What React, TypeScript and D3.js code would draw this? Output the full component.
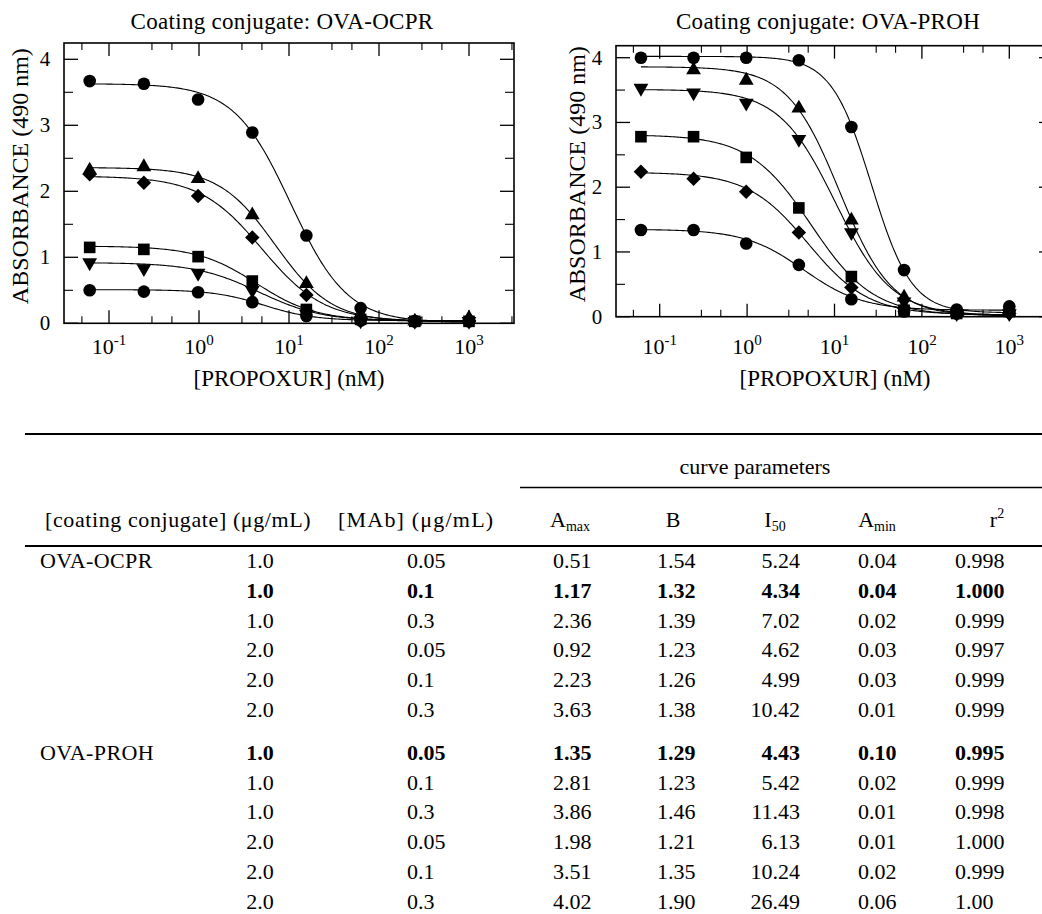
import React from 'react';
import * as d3 from 'd3';

// propoxur concentrations (nM), fourfold dilutions
const concentrations = [0.061, 0.244, 0.977, 3.91, 15.6, 62.5, 250, 1000];

// panel A: coating conjugate OVA-OCPR
const ocprShapes = ['circle', 'triangleUp', 'diamond', 'square', 'triangleDown', 'circle'];
const ocprPoints = [
  [3.67, 3.63, 3.39, 2.89, 1.33, 0.23, 0.035, 0.035],
  [2.32, 2.37, 2.19, 1.64, 0.6, 0.13, 0.03, 0.08],
  [2.26, 2.13, 1.93, 1.3, 0.43, 0.08, 0.03, 0.04],
  [1.15, 1.12, 1.01, 0.64, 0.21, 0.06, 0.03, 0.03],
  [0.92, 0.83, 0.76, 0.5, 0.14, 0.04, 0.03, 0.03],
  [0.5, 0.48, 0.47, 0.32, 0.11, 0.04, 0.03, 0.03],
];
// fitted curves [Amax, B, I50, Amin]
const ocprFits = [
  [3.63, 1.38, 10.42, 0.01],
  [2.36, 1.39, 7.02, 0.02],
  [2.23, 1.26, 4.99, 0.03],
  [1.17, 1.32, 4.34, 0.04],
  [0.92, 1.23, 4.62, 0.03],
  [0.51, 1.54, 5.24, 0.04],
];

// panel B: coating conjugate OVA-PROH
const prohShapes = ['circle', 'triangleUp', 'triangleDown', 'square', 'diamond', 'circle'];
const prohPoints = [
  [4.0, 4.0, 4.0, 3.96, 2.93, 0.72, 0.11, 0.16],
  [null, 3.81, 3.65, 3.22, 1.49, 0.3, 0.06, 0.06],
  [3.53, 3.46, 3.3, 2.74, 1.3, 0.23, 0.05, 0.05],
  [2.78, 2.78, 2.46, 1.68, 0.62, 0.1, 0.05, 0.08],
  [2.24, 2.13, 1.93, 1.3, 0.45, 0.13, 0.05, 0.05],
  [1.34, 1.34, 1.13, 0.8, 0.27, 0.08, 0.05, 0.08],
];
const prohFits = [
  [4.02, 1.9, 26.49, 0.06],
  [3.86, 1.46, 11.43, 0.01],
  [3.51, 1.35, 10.24, 0.02],
  [2.81, 1.23, 5.42, 0.02],
  [2.23, 1.26, 4.99, 0.03],
  [1.35, 1.29, 4.43, 0.1],
];

const yTicks = [0, 1, 2, 3, 4];
const decadeTicks = [-1, 0, 1, 2, 3];

// table
const groupNames = ['OVA-OCPR', 'OVA-PROH'];
const coatingConc = ['1.0', '1.0', '1.0', '2.0', '2.0', '2.0', '1.0', '1.0', '1.0', '2.0', '2.0', '2.0'];
const mabConc = ['0.05', '0.1', '0.3', '0.05', '0.1', '0.3', '0.05', '0.1', '0.3', '0.05', '0.1', '0.3'];
const aMax = ['0.51', '1.17', '2.36', '0.92', '2.23', '3.63', '1.35', '2.81', '3.86', '1.98', '3.51', '4.02'];
const slopeB = ['1.54', '1.32', '1.39', '1.23', '1.26', '1.38', '1.29', '1.23', '1.46', '1.21', '1.35', '1.90'];
const i50 = ['5.24', '4.34', '7.02', '4.62', '4.99', '10.42', '4.43', '5.42', '11.43', '6.13', '10.24', '26.49'];
const aMin = ['0.04', '0.04', '0.02', '0.03', '0.03', '0.01', '0.10', '0.02', '0.01', '0.01', '0.02', '0.06'];
const rSquared = ['0.998', '1.000', '0.999', '0.997', '0.999', '0.999', '0.995', '0.999', '0.998', '1.000', '0.999', '1.00'];
const boldRows = [1, 6];

const FONT = '"Liberation Serif", "Times New Roman", serif';

const symbolFor = (shape: string) => {
  const gen = d3.symbol();
  if (shape === 'circle') return { d: gen.type(d3.symbolCircle).size(125)(), rot: 0 };
  if (shape === 'square') return { d: gen.type(d3.symbolSquare).size(135)(), rot: 0 };
  if (shape === 'diamond') return { d: gen.type(d3.symbolSquare).size(105)(), rot: 45 };
  if (shape === 'triangleUp') return { d: gen.type(d3.symbolTriangle).size(95)(), rot: 0 };
  return { d: gen.type(d3.symbolTriangle).size(95)(), rot: 180 };
};

const logistic = (p: number[], x: number) => (p[0] - p[3]) / (1 + Math.pow(x / p[2], p[1])) + p[3];

function Panel({ title, points, fits, shapes, left, right, top, bottom, yMax, titleX, yLabelX }: any) {
  const x = d3.scaleLog().domain([Math.pow(10, -1.5), Math.pow(10, 3.5)]).range([left, right]);
  const y = d3.scaleLinear().domain([0, yMax]).range([bottom, top]);
  const lo = Math.log10(concentrations[0]);
  const hi = Math.log10(concentrations[concentrations.length - 1]);
  const samples = d3.range(0, 241).map((i) => Math.pow(10, lo + ((hi - lo) * i) / 240));
  const line = d3.line<number>();

  const minorX: number[] = [];
  [-2, -1, 0, 1, 2, 3].forEach((e) => [3, 5].forEach((m) => {
    const v = m * Math.pow(10, e);
    if (v > x.domain()[0] && v < x.domain()[1]) minorX.push(v);
  }));
  const minorY = d3.range(0.5, yMax, 1);

  return (
    <g>
      <text x={titleX} y={29} textAnchor="middle" fontSize={23} fontFamily={FONT} letterSpacing={0.3}>{title}</text>
      {fits.map((p: number[], i: number) => (
        <path key={'c' + i}
          d={line(samples.map((s) => [x(s), y(logistic(p, s))]) as any) || ''}
          fill="none" stroke="#000" strokeWidth={1.1} />
      ))}
      {points.map((row: (number | null)[], i: number) => {
        const sym = symbolFor(shapes[i]);
        return row.map((v, j) => v === null ? null : (
          <path key={'p' + i + '-' + j} d={sym.d as string}
            transform={`translate(${x(concentrations[j])},${y(v)}) rotate(${sym.rot})`} fill="#000" />
        ));
      })}
      <rect x={left} y={top} width={right - left} height={bottom - top} fill="none" stroke="#000" strokeWidth={1.6} />
      {/* x ticks top and bottom */}
      {decadeTicks.map((e) => {
        const px = x(Math.pow(10, e));
        return (
          <g key={'xt' + e}>
            <line x1={px} x2={px} y1={bottom} y2={bottom - 13} stroke="#000" strokeWidth={1.3} />
            <line x1={px} x2={px} y1={top} y2={top + 13} stroke="#000" strokeWidth={1.3} />
            <text x={px} y={354} textAnchor="middle" fontSize={22} fontFamily={FONT}>
              10<tspan fontSize={15} dy={-9}>{e}</tspan>
            </text>
          </g>
        );
      })}
      {minorX.map((v, i) => (
        <g key={'xm' + i}>
          <line x1={x(v)} x2={x(v)} y1={bottom} y2={bottom - 7} stroke="#000" strokeWidth={1.1} />
          <line x1={x(v)} x2={x(v)} y1={top} y2={top + 7} stroke="#000" strokeWidth={1.1} />
        </g>
      ))}
      {/* y ticks left and right */}
      {yTicks.map((t) => (
        <g key={'yt' + t}>
          <line x1={left} x2={left + 14} y1={y(t)} y2={y(t)} stroke="#000" strokeWidth={1.3} />
          <line x1={right} x2={right - 14} y1={y(t)} y2={y(t)} stroke="#000" strokeWidth={1.3} />
          <text x={left - 19} y={y(t) + 7} textAnchor="middle" fontSize={21} fontFamily={FONT}>{t}</text>
        </g>
      ))}
      {minorY.map((t) => (
        <g key={'ym' + t}>
          <line x1={left} x2={left + 9} y1={y(t)} y2={y(t)} stroke="#000" strokeWidth={1.1} />
          <line x1={right} x2={right - 9} y1={y(t)} y2={y(t)} stroke="#000" strokeWidth={1.1} />
        </g>
      ))}
      <text x={(left + Math.min(right, 1042)) / 2 + (right > 1042 ? 6 : 0)} y={386} textAnchor="middle" fontSize={23} fontFamily={FONT}>
        [PROPOXUR] (nM)
      </text>
      <text transform={`translate(${yLabelX},${(top + bottom) / 2 - 7}) rotate(-90)`} textAnchor="middle"
        fontSize={24} fontFamily={FONT}>
        ABSORBANCE (490 nm)
      </text>
    </g>
  );
}

function ParamTable() {
  const rowY = (i: number) => 568 + i * 29.8 + (i >= 6 ? 13 : 0);
  const cell = { fontSize: 22, fontFamily: FONT };
  return (
    <g>
      <line x1={25} x2={1042} y1={434} y2={434} stroke="#000" strokeWidth={2} />
      <text x={755} y={474} textAnchor="middle" {...cell}>curve parameters</text>
      <line x1={520} x2={1042} y1={487.5} y2={487.5} stroke="#000" strokeWidth={1.6} />
      <text x={45} y={527} {...cell} letterSpacing={0.6}>[coating conjugate] (μg/mL)</text>
      <text x={338} y={527} {...cell} letterSpacing={1.2}>[MAb] (μg/mL)</text>
      <text x={570} y={527} textAnchor="middle" {...cell}>A<tspan fontSize={14} dy={4}>max</tspan></text>
      <text x={673} y={527} textAnchor="middle" {...cell}>B</text>
      <text x={775} y={527} textAnchor="middle" {...cell}>I<tspan fontSize={14} dy={4}>50</tspan></text>
      <text x={877} y={527} textAnchor="middle" {...cell}>A<tspan fontSize={14} dy={4}>min</tspan></text>
      <text x={997} y={527} textAnchor="middle" {...cell}>r<tspan fontSize={14} dy={-9}>2</tspan></text>
      <line x1={25} x2={1042} y1={546} y2={546} stroke="#000" strokeWidth={2} />
      {groupNames.map((g, k) => (
        <text key={g} x={40} y={rowY(k * 6)} {...cell} letterSpacing={0.4}>{g}</text>
      ))}
      {coatingConc.map((c, i) => {
        const weight = boldRows.includes(i) ? 'bold' : 'normal';
        const yy = rowY(i);
        return (
          <g key={'r' + i} fontWeight={weight}>
            <text x={260} y={yy} textAnchor="middle" {...cell}>{c}</text>
            <text x={407} y={yy} {...cell}>{mabConc[i]}</text>
            <text x={553} y={yy} {...cell}>{aMax[i]}</text>
            <text x={657} y={yy} {...cell}>{slopeB[i]}</text>
            <text x={800} y={yy} textAnchor="end" {...cell}>{i50[i]}</text>
            <text x={858} y={yy} {...cell}>{aMin[i]}</text>
            <text x={955} y={yy} {...cell}>{rSquared[i]}</text>
          </g>
        );
      })}
    </g>
  );
}

export default function App() {
  return (
    <svg width={1042} height={914} style={{ position: 'absolute', left: 0, top: 0, background: '#fff' }}>
      <rect width={1042} height={914} fill="#fff" />
      <Panel title="Coating conjugate: OVA-OCPR" points={ocprPoints} fits={ocprFits} shapes={ocprShapes}
        left={64} right={514} top={43} bottom={323.3} yMax={(323.3 - 43) / 66} titleX={282} yLabelX={28} />
      <Panel title="Coating conjugate: OVA-PROH" points={prohPoints} fits={prohFits} shapes={prohShapes}
        left={616} right={1053} top={45.7} bottom={316.7} yMax={(316.7 - 45.7) / 64.75} titleX={828} yLabelX={585} />
      <ParamTable />
    </svg>
  );
}
